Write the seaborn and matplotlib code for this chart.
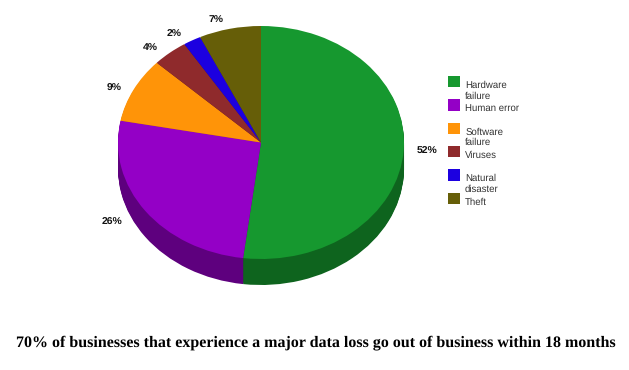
import matplotlib
matplotlib.use('Agg')
import matplotlib.pyplot as plt
import seaborn as sns
import numpy as np
import pandas as pd

# chart values
causes = ['Hardware\nfailure', 'Human error', 'Software\nfailure', 'Viruses', 'Natural\ndisaster', 'Theft']
shares = [52, 26, 9, 4, 2, 7]
share_labels = ['52%', '26%', '9%', '4%', '2%', '7%']
top_colors = ['#16982f', '#9400c6', '#ff9408', '#8f2a2c', '#1c00e0', '#665e08']
side_colors = ['#0e641e', '#5e007e', '#a45f05', '#5c1b1c', '#120090', '#413c05']
title = '70% of businesses that experience a major data loss go out of business within 18 months'

# label nudges from where pie puts them, in pixels (right, down)
nudges = [(-4, 1), (-9, 3), (3, 5), (-1, 6), (-2, 6), (-3, 5)]

sns.set_theme(style='white')
plt.rcParams['font.family'] = ['Liberation Sans', 'DejaVu Sans']
plt.rcParams['text.hinting'] = 'no_hinting'

W, H = 629, 370
fig = plt.figure(figsize=(W / 100, H / 100), dpi=100)

# ---- pie with a fake 3d rim ----
depth = 26 / 116.5
ax = fig.add_axes([118 / W, (H - 285) / H, 286 / W, 259 / H])

# stack of dark pies makes the rim
for offset in np.linspace(depth, 0.01, 27):
    ax.pie(shares, colors=side_colors, startangle=90, counterclock=False,
           center=(0, -offset), radius=1, wedgeprops={'linewidth': 0})

wedges, texts = ax.pie(shares, labels=share_labels, colors=top_colors, startangle=90,
                       counterclock=False, labeldistance=1.12, radius=1,
                       wedgeprops={'linewidth': 0},
                       textprops={'fontsize': 7.5, 'fontweight': 'bold', 'color': '#111111'})
ax.set_aspect('auto')
ax.set_xlim(-1, 1)
ax.set_ylim(-1 - depth, 1)
for wedge in ax.patches:
    wedge.set_clip_on(False)
for text, (dx, dy) in zip(texts, nudges):
    x, y = text.get_position()
    text.set_position((x + dx / 143, y - dy / 116.5))

# ---- legend, evenly spaced rows ----
legend_df = pd.DataFrame({'cause': causes, 'row': range(len(causes)), 'x': 0})
ax_leg = fig.add_axes([441 / W, (H - 210) / H, 110 / W, 140 / H])
sns.scatterplot(data=legend_df, x='x', y='row', hue='cause', palette=top_colors, marker='s',
                s=70, linewidth=0, legend=False, ax=ax_leg)
ax_leg.set_xlim(-0.135, 1)
ax_leg.set_ylim(5.5, -0.5)
ax_leg.axis('off')
for cause, row in zip(causes, legend_df['row']):
    ax_leg.annotate(cause, (0, row), xytext=(11, 1), textcoords='offset pixels',
                    ha='left', va='top', fontsize=6.9, color='#333333', linespacing=1.2,
                    annotation_clip=False)

# ---- title ----
fig.text(316 / W, (H - 343) / H, title, ha='center', va='center', fontsize=11.5,
         fontweight='bold', family=['Liberation Serif', 'DejaVu Serif'], color='black')

plt.savefig('out.png', dpi=100)
plt.close('all')
